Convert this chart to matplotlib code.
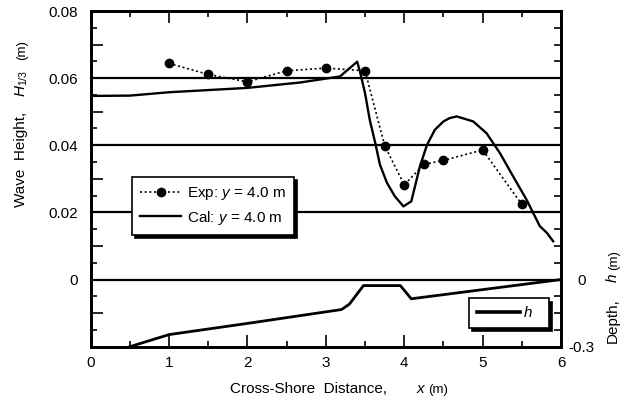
import matplotlib
matplotlib.use("Agg")
import matplotlib.pyplot as plt
import numpy as np
from matplotlib.ticker import FixedLocator, FuncFormatter
from matplotlib.lines import Line2D

plt.rcParams["font.family"] = ["Liberation Sans", "DejaVu Sans"]
plt.rcParams["mathtext.fontset"] = "custom"
plt.rcParams["mathtext.rm"] = "Liberation Sans"
plt.rcParams["mathtext.it"] = "Liberation Sans:italic"
plt.rcParams["font.size"] = 11

# Measured significant wave height (y = 4.0 m)
exp_x = [1.0, 1.5, 2.0, 2.5, 3.0, 3.5, 3.75, 4.0, 4.25, 4.5, 5.0, 5.5]
exp_h = [0.0644, 0.0611, 0.0589, 0.0622, 0.0630, 0.0622, 0.0399, 0.0282,
         0.0343, 0.0355, 0.0386, 0.0224]

# Computed significant wave height (y = 4.0 m)
cal_x = [0.0, 0.5, 1.0, 2.0, 2.67, 3.18, 3.40, 3.44, 3.50, 3.56, 3.63, 3.69,
         3.78, 3.88, 3.99, 4.09, 4.20, 4.29, 4.39, 4.50, 4.58, 4.67, 4.88,
         5.05, 5.22, 5.39, 5.56, 5.73, 5.82, 5.90]
cal_h = [0.0547, 0.0548, 0.0558, 0.0571, 0.0587, 0.0605, 0.0649, 0.0615,
         0.0555, 0.0476, 0.0407, 0.0342, 0.0288, 0.0248, 0.0218, 0.0233,
         0.0337, 0.0401, 0.0446, 0.0471, 0.0481, 0.0486, 0.0471, 0.0436,
         0.0377, 0.0307, 0.0238, 0.0159, 0.0139, 0.0114]

# Bottom profile (depth h, m)
bed_x = [0.5, 1.0, 2.0, 3.2, 3.3, 3.48, 3.95, 4.09, 6.0]
bed_h = [-0.30, -0.246, -0.196, -0.134, -0.11, -0.027, -0.027, -0.086, 0.0]

fig = plt.figure(figsize=(6.29, 4.05), dpi=100)
ax = fig.add_axes([0.1442, 0.1440, 0.7477, 0.8288])
ax.set_xlim(0, 6)
ax.set_ylim(-0.02, 0.08)

for lvl in [0.0, 0.02, 0.04, 0.06]:
    ax.axhline(lvl, color="black", lw=1.6, zorder=1)

ax.plot(exp_x, exp_h, color="black", lw=1.2, ls=(0, (1.2, 1.6)),
        marker="o", ms=6, zorder=3, label="Exp: $y$ = 4.0 m")
ax.plot(cal_x, cal_h, color="black", lw=1.7, zorder=3,
        label="Cal: $y$ = 4.0 m", solid_joinstyle="round")

# Depth axis on the right
ax2 = ax.twinx()
ax2.set_ylim(-0.3, 1.2)
ax2.plot(bed_x, bed_h, color="black", lw=2.0, zorder=3)

for sp in ax.spines.values():
    sp.set_linewidth(2.0)
for sp in ax2.spines.values():
    sp.set_linewidth(2.0)

ax.xaxis.set_major_locator(FixedLocator(np.arange(0, 7, 1)))
ax.xaxis.set_minor_locator(FixedLocator(np.arange(0.5, 6, 1)))
ax.yaxis.set_major_locator(FixedLocator(np.round(np.arange(-0.02, 0.081, 0.01), 3)))
ax.yaxis.set_minor_locator(FixedLocator(np.round(np.arange(-0.015, 0.08, 0.01), 3)))


def left_fmt(v, pos):
    if v < -1e-9:
        return ""
    k = int(round(v * 100))
    if k % 2 != 0:
        return ""
    return "0" if k == 0 else f"{v:.2f}"


ax.yaxis.set_major_formatter(FuncFormatter(left_fmt))
ax.tick_params(axis="x", which="both", direction="in", top=True, bottom=True,
               width=1.2, pad=7, labelsize=11)
ax.tick_params(axis="x", which="major", length=8.6)
ax.tick_params(axis="x", which="minor", length=4.3)
ax.tick_params(axis="y", which="both", direction="in", left=True, right=False,
               width=1.2, pad=9, labelsize=11)
ax.tick_params(axis="y", which="major", length=8.6)
ax.tick_params(axis="y", which="minor", length=4.3)

ax2.yaxis.set_major_locator(FixedLocator([-0.3, 0.0]))
ax2.yaxis.set_minor_locator(FixedLocator(np.round(np.arange(-0.225, 1.2, 0.075), 3)))
ax2.yaxis.set_major_formatter(FuncFormatter(lambda v, p: "0" if abs(v) < 1e-9 else f"{v:.1f}"))
ax2.tick_params(axis="y", which="both", direction="in", length=5, width=1.2,
                pad=15, labelsize=11)
for lab in ax2.get_yticklabels():
    lab.set_horizontalalignment("center")

shadow = {"ox": 2.3, "oy": -2.3, "color": "black", "alpha": 1.0}
leg = ax.legend(loc="upper left", bbox_to_anchor=(0.087, 0.506),
                borderaxespad=0, frameon=True, fancybox=False, shadow=shadow,
                numpoints=1, handlelength=2.7, handletextpad=0.37,
                labelspacing=0.42, borderpad=0.55, fontsize=11)
leg.get_frame().set_edgecolor("black")
leg.get_frame().set_linewidth(1.2)
leg.set_zorder(5)

leg2 = ax2.legend([Line2D([], [], color="black", lw=2.6)], ["h  "],
                  loc="upper left", bbox_to_anchor=(0.805, 0.144),
                  borderaxespad=0, frameon=True, fancybox=False, shadow=shadow,
                  handlelength=2.8, handletextpad=0.3, borderpad=0.5,
                  prop={"style": "italic", "size": 11})
leg2.get_frame().set_edgecolor("black")
leg2.get_frame().set_linewidth(1.2)


def px(x, y):
    return x / 629.0, 1.0 - y / 405.0


# x-axis title
fig.text(*px(230, 393), "Cross-Shore  Distance,", ha="left", va="baseline", fontsize=11)
fig.text(*px(416.5, 393), "x", ha="left", va="baseline", fontsize=11, style="italic")
fig.text(*px(428, 393), "(m)", ha="left", va="baseline", fontsize=9.5)

# left y-axis title
fig.text(*px(25.5, 207), "Wave  Height,", rotation=90, rotation_mode="anchor",
         ha="left", va="baseline", fontsize=11)
fig.text(*px(25.5, 97), r"$H_{\mathrm{1/3}}$", rotation=90, rotation_mode="anchor",
         ha="left", va="baseline", fontsize=11)
fig.text(*px(25.5, 60), "(m)", rotation=90, rotation_mode="anchor",
         ha="left", va="baseline", fontsize=9.5)

# right y-axis title
fig.text(*px(617, 343), "Depth,", rotation=90, rotation_mode="anchor",
         ha="left", va="baseline", fontsize=11)
fig.text(*px(617, 281.5), "h", rotation=90, rotation_mode="anchor",
         ha="left", va="baseline", fontsize=11, style="italic")
fig.text(*px(617, 270), "(m)", rotation=90, rotation_mode="anchor",
         ha="left", va="baseline", fontsize=9.5)

fig.savefig("out.png", dpi=100)
